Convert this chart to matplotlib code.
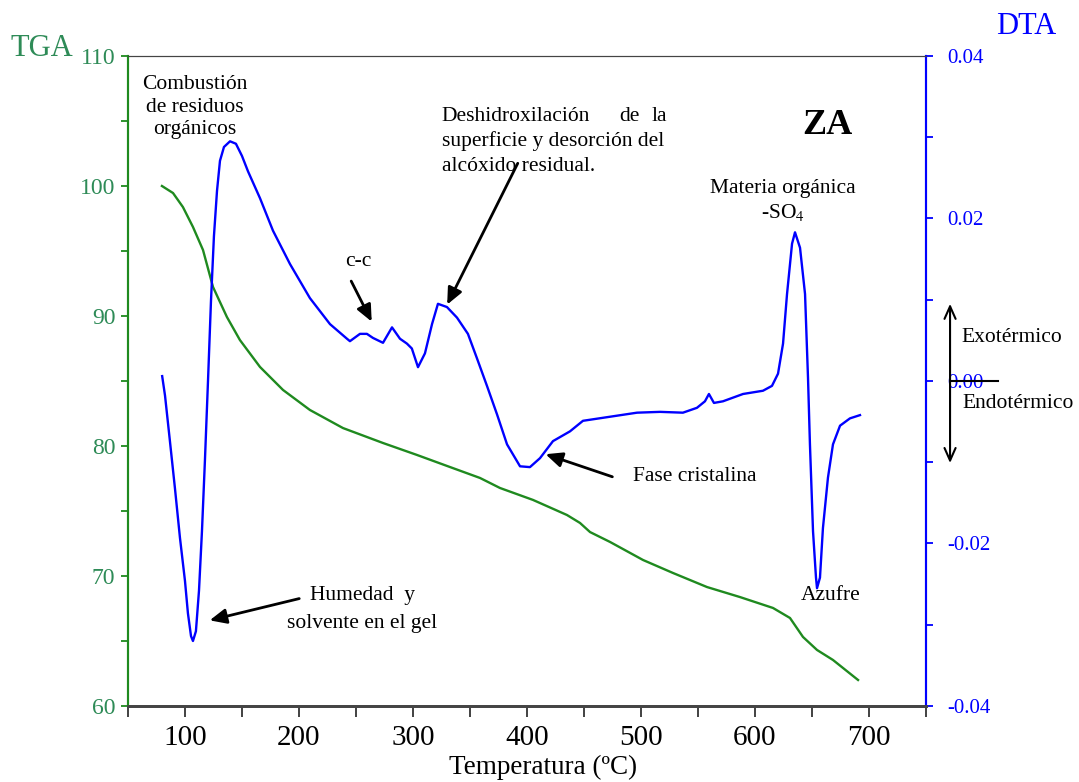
import matplotlib
matplotlib.use("Agg")
import matplotlib.pyplot as plt
from matplotlib.ticker import MultipleLocator, FuncFormatter

plt.rcParams['font.family'] = ['Liberation Serif', 'DejaVu Serif']
plt.rcParams['mathtext.fontset'] = 'stix'
plt.rcParams['axes.unicode_minus'] = False

# TGA curve (weight %) vs temperature
tga_temp = [79.8, 89.5, 98.2, 107.0, 115.8, 124.6, 136.8, 148.2, 165.8, 186.0,
            209.6, 238.6, 273.7, 303.5, 332.5, 358.8, 376.3, 405.3, 435.1, 446.5,
            455.3, 472.8, 501.8, 528.1, 557.9, 586.8, 615.8, 630.7, 642.1, 654.4,
            668.4, 690.4]
tga_val = [100.0, 99.46, 98.38, 96.85, 95.08, 92.23, 89.92, 88.15, 86.08, 84.31,
           82.77, 81.38, 80.23, 79.31, 78.38, 77.54, 76.77, 75.85, 74.69, 74.08,
           73.38, 72.62, 71.23, 70.23, 69.15, 68.38, 67.54, 66.77, 65.31, 64.31,
           63.54, 62.0]

# DTA curve vs temperature
dta_temp = [80.0, 82.5, 86.8, 91.2, 95.6, 100.0, 102.6, 105.3, 107.0, 109.6,
            112.3, 114.9, 117.5, 120.2, 122.8, 125.4, 128.1, 130.7, 134.2, 139.5,
            144.7, 150.0, 155.3, 165.8, 177.2, 192.1, 209.6, 227.2, 242.1, 244.7,
            253.5, 259.6, 264.9, 273.7, 281.6, 288.6, 294.7, 299.0, 304.4, 310.5,
            316.7, 321.9, 329.8, 338.6, 348.2, 356.1, 364.9, 373.7, 382.5, 393.9,
            402.6, 411.4, 422.8, 437.7, 449.1, 472.8, 496.5, 516.7, 536.8, 549.1,
            556.1, 559.6, 564.0, 571.9, 589.5, 607.0, 614.9, 620.2, 624.6, 628.1,
            632.5, 635.1, 639.5, 643.9, 646.5, 648.2, 650.9, 653.5, 654.4, 657.0,
            659.6, 664.0, 668.4, 674.6, 683.3, 692.1]
dta_val = [0.0006, -0.0018, -0.0074, -0.0132, -0.0193, -0.0246, -0.0286, -0.0314, -0.0320, -0.0308,
           -0.0258, -0.0185, -0.0098, 0.0, 0.0098, 0.0178, 0.0234, 0.0271, 0.0288, 0.0295,
           0.0292, 0.0277, 0.0258, 0.0225, 0.0185, 0.0144, 0.0102, 0.0070, 0.0052, 0.0049,
           0.0058, 0.0058, 0.0053, 0.0047, 0.0066, 0.0052, 0.0046, 0.0040, 0.0017, 0.0034,
           0.0070, 0.0095, 0.0091, 0.0078, 0.0058, 0.0028, -0.0006, -0.0041, -0.0078, -0.0105,
           -0.0106, -0.0095, -0.0074, -0.0062, -0.0049, -0.0044, -0.0039, -0.0038, -0.0039, -0.0033,
           -0.0025, -0.0016, -0.0027, -0.0025, -0.0016, -0.0012, -0.0006, 0.0009, 0.0046, 0.0107,
           0.0169, 0.0183, 0.0164, 0.0107, 0.0004, -0.0078, -0.0185, -0.0242, -0.0255, -0.0242,
           -0.0181, -0.0119, -0.0078, -0.0055, -0.0046, -0.0042]

x_ticks = [100, 200, 300, 400, 500, 600, 700]
tga_ticks = [60, 70, 80, 90, 100, 110]
dta_ticks = [-0.04, -0.02, 0.0, 0.02, 0.04]

green_txt = '#2e8b57'
green_line = '#1f8a1f'
blue = '#0000ff'

fig = plt.figure(figsize=(10.79, 7.82), dpi=100)
ax1 = fig.add_axes([0.1186, 0.0972, 0.7396, 0.8312])
ax2 = ax1.twinx()

ax1.plot(tga_temp, tga_val, color=green_line, lw=1.7)
ax2.plot(dta_temp, dta_val, color=blue, lw=1.7)

ax1.set_xlim(50, 750)
ax1.set_ylim(60, 110)
ax2.set_ylim(-0.04, 0.04)

ax1.set_xticks(x_ticks)
ax1.xaxis.set_minor_locator(MultipleLocator(50))
ax1.tick_params(axis='x', which='both', direction='out', length=8, width=1.3,
                color='#333333', labelsize=21, pad=6)
ax1.set_yticks(tga_ticks)
ax1.yaxis.set_minor_locator(MultipleLocator(5))
ax1.tick_params(axis='y', which='both', direction='out', length=5, width=1.3,
                color='#1f8a1f', labelcolor=green_txt, labelsize=17, pad=4)
ax2.set_yticks(dta_ticks)
ax2.yaxis.set_minor_locator(MultipleLocator(0.01))
ax2.yaxis.set_major_formatter(FuncFormatter(lambda v, p: f'{v:.2f}'))
ax2.tick_params(axis='y', which='both', direction='out', length=5, width=1.3,
                color=blue, labelcolor=blue, labelsize=15, pad=10)

for ax in (ax1, ax2):
    ax.spines['top'].set_color('#444444')
    ax.spines['bottom'].set_color('#444444')
    ax.spines['bottom'].set_linewidth(2)
    ax.spines['left'].set_color('#1f8a1f')
    ax.spines['right'].set_color(blue)
    ax.spines['left'].set_linewidth(1.5)
    ax.spines['right'].set_linewidth(1.5)

ax1.set_xlabel('Temperatura (ºC)', fontsize=19.5)
ax1.xaxis.set_label_coords(0.52, -0.075)
fig.text(0.039, 0.938, 'TGA', color=green_txt, fontsize=22, ha='center', va='center')
fig.text(0.951, 0.966, 'DTA', color=blue, fontsize=22, ha='center', va='center')

fs = 15.5
arrow = dict(arrowstyle='-|>,head_length=1.0,head_width=0.45', color='black', lw=2)

ax2.text(108.8, 0.0337, 'Combustión\nde residuos\norgánicos', fontsize=fs,
         ha='center', va='center', linespacing=1.23)

ax2.text(251.8, 0.01465, 'c-c', fontsize=fs, ha='center', va='center')
ax2.annotate('', xy=(264.9, 0.0070), xytext=(244.7, 0.0126), arrowprops=arrow)

ax2.text(325.4, 0.0326, 'Deshidroxilación', fontsize=fs, ha='left', va='center')
ax2.text(489.5, 0.0326, 'de', fontsize=fs, ha='center', va='center')
ax2.text(522.8, 0.0326, 'la', fontsize=fs, ha='right', va='center')
ax2.text(325.4, 0.02954, 'superficie y desorción del', fontsize=fs, ha='left', va='center')
ax2.text(325.4, 0.02646, 'alcóxido residual.', fontsize=fs, ha='left', va='center')
ax2.annotate('', xy=(328.9, 0.0091), xytext=(393.0, 0.0271), arrowprops=arrow)

ax2.text(663.2, 0.0314, 'ZA', fontsize=26, fontweight='bold', ha='center', va='center')

ax2.text(624.6, 0.02375, 'Materia orgánica', fontsize=fs, ha='center', va='center')
ax2.text(624.6, 0.02068, '-SO$_4$', fontsize=fs, ha='center', va='center')

ax2.text(493.0, -0.0117, 'Fase cristalina', fontsize=fs, ha='left', va='center')
ax2.annotate('', xy=(414.0, -0.0089), xytext=(477.2, -0.0119), arrowprops=arrow)

ax2.text(666.7, -0.02646, 'Azufre', fontsize=fs, ha='center', va='center')

ax2.text(255.3, -0.02646, 'Humedad  y', fontsize=fs, ha='center', va='center')
ax2.text(255.3, -0.0299, 'solvente en el gel', fontsize=fs, ha='center', va='center')
ax2.annotate('', xy=(119.3, -0.02954), xytext=(202.6, -0.0267), arrowprops=arrow)

# exo / endo indicator outside the right axis
ax2.annotate('', xy=(771.1, 0.0095), xytext=(771.1, -0.0101),
             arrowprops=dict(arrowstyle='<->,head_length=0.9,head_width=0.4',
                             color='black', lw=1.5, shrinkA=0, shrinkB=0),
             annotation_clip=False)
ax2.plot([771.1, 813.2], [0, 0], color='black', lw=1.5, clip_on=False)
ax2.text(780.7, 0.0053, 'Exotérmico', fontsize=fs, ha='left', va='center')
ax2.text(781.6, -0.0028, 'Endotérmico', fontsize=fs, ha='left', va='center')

fig.savefig('out.png', dpi=100)
